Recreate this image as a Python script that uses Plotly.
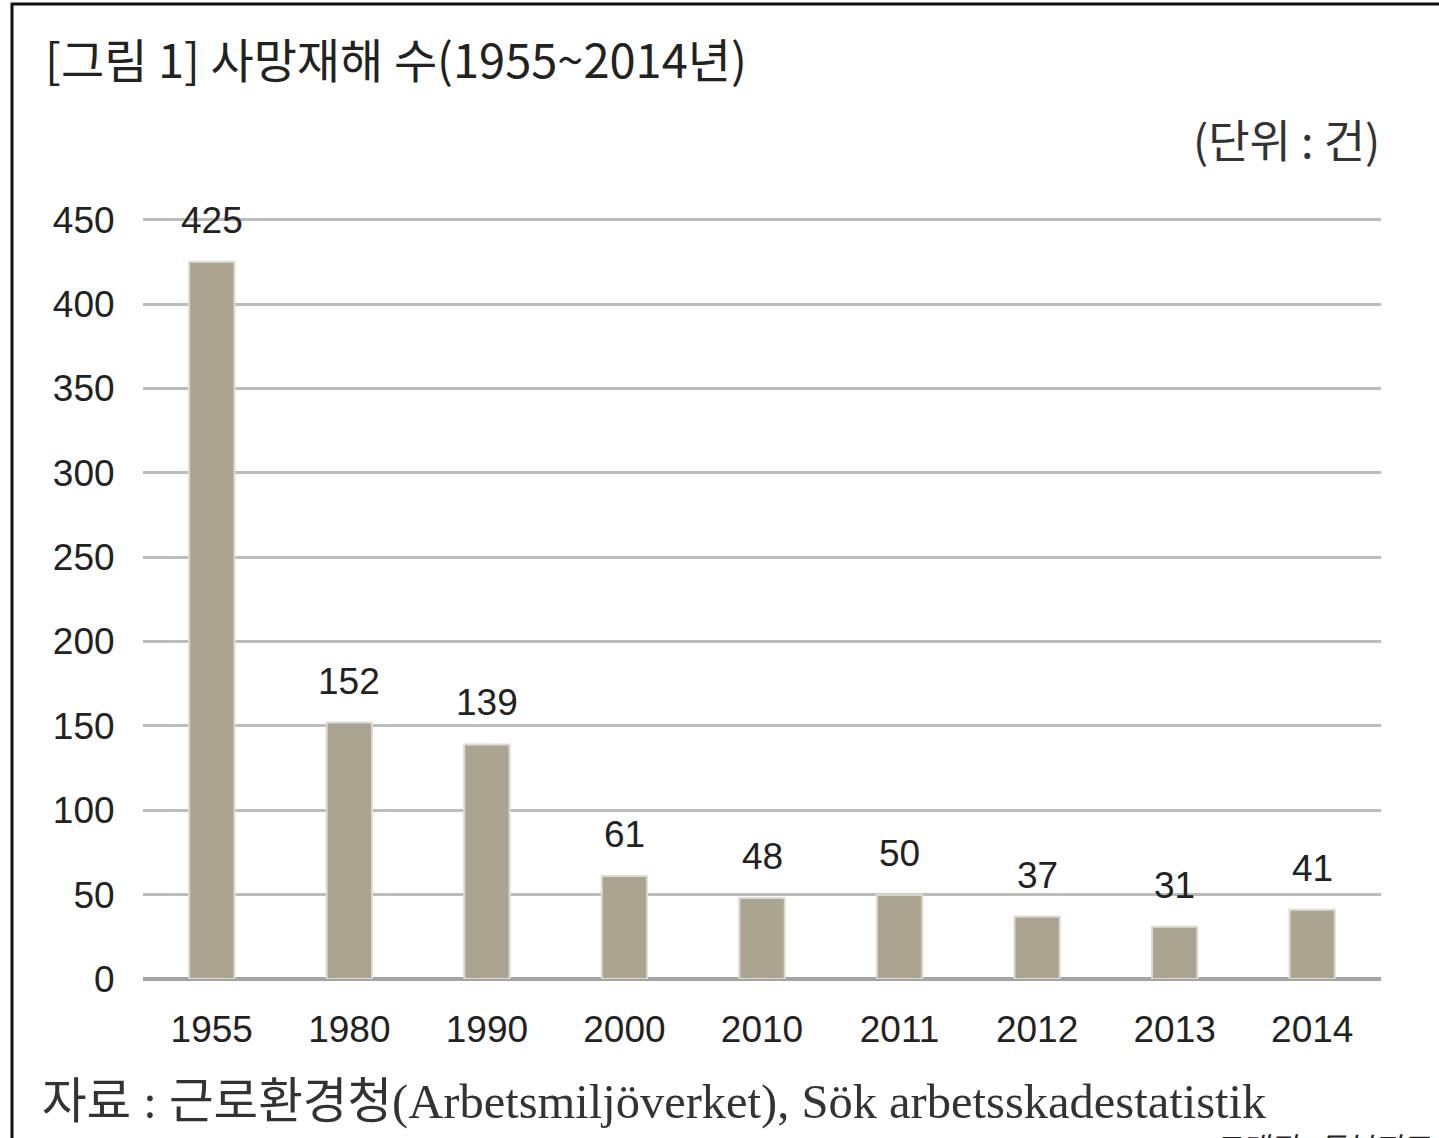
import plotly.graph_objects as go

years = ["1955", "1980", "1990", "2000", "2010", "2011", "2012", "2013", "2014"]
deaths = [425, 152, 139, 61, 48, 50, 37, 31, 41]
y_ticks = [0, 50, 100, 150, 200, 250, 300, 350, 400, 450]

title_text = "[그림 1] 사망재해 수(1955~2014년)"
unit_text = "(단위 : 건)"
source_text = "자료 : 근로환경청(Arbetsmiljöverket), Sök arbetsskadestatistik"
credit_text = "그래픽 : 동북지표"

W, H = 1439, 1138
L, R, T, B = 143, 58, 218, 159
pw, ph = W - L - R, H - T - B

def px(x):
    return (x - L) / pw

def py(y):
    return (H - B - y) / ph

fig = go.Figure()
fig.add_trace(go.Bar(
    x=list(range(len(years))), y=deaths,
    width=0.33,
    marker=dict(color="#aba491", line=dict(color="#dedbd3", width=2)),
    hovertext=years, hoverinfo="text+y",
))

for i, v in enumerate(deaths):
    fig.add_annotation(
        x=i, y=v, xref="x", yref="y", text=str(v), showarrow=False,
        yanchor="bottom", yshift=19,
        font=dict(family="Liberation Sans, Arial, sans-serif", size=37, color="#222222"),
    )

fig.add_annotation(x=px(43), y=py(57), xref="paper", yref="paper", text=title_text,
                   showarrow=False, xanchor="left", yanchor="middle",
                   font=dict(family="Noto Sans CJK KR, sans-serif", size=47, color="#222222"))
fig.add_annotation(x=px(1382), y=py(138), xref="paper", yref="paper", text=unit_text,
                   showarrow=False, xanchor="right", yanchor="middle",
                   font=dict(family="Noto Sans CJK KR, sans-serif", size=45, color="#333333"))
fig.add_annotation(x=px(40), y=py(1102), xref="paper", yref="paper", text=source_text,
                   showarrow=False, xanchor="left", yanchor="middle",
                   font=dict(family="Liberation Serif, Noto Sans CJK KR, serif", size=48.5, color="#333333"))
fig.add_annotation(x=px(1432), y=py(1146), xref="paper", yref="paper", text="<i>" + credit_text + "</i>",
                   showarrow=False, xanchor="right", yanchor="middle",
                   font=dict(family="Noto Sans CJK KR, sans-serif", size=30, color="#222222"))

# frame lines (left and top)
fig.add_shape(type="line", xref="paper", yref="paper", x0=px(12), x1=px(12), y0=py(3), y1=py(1150),
              line=dict(color="#111111", width=3))
fig.add_shape(type="line", xref="paper", yref="paper", x0=px(11), x1=px(1450), y0=py(4), y1=py(4),
              line=dict(color="#111111", width=3))

fig.update_layout(
    width=W, height=H,
    margin=dict(l=L, r=R, t=T, b=B),
    paper_bgcolor="white", plot_bgcolor="white",
    showlegend=False,
    xaxis=dict(
        range=[-0.5, 8.5], tickvals=list(range(len(years))), ticktext=years,
        showgrid=False, showline=False, zeroline=False,
        ticks="outside", ticklen=18, tickcolor="rgba(0,0,0,0)",
        tickfont=dict(family="Liberation Sans, Arial, sans-serif", size=37, color="#222222"),
    ),
    yaxis=dict(
        range=[0, 451], tickvals=y_ticks, showgrid=True, gridcolor="#bcbcbc", gridwidth=2.5,
        zeroline=True, zerolinecolor="#a4a4a6", zerolinewidth=4, showline=False,
        ticks="outside", ticklen=20, tickcolor="rgba(0,0,0,0)",
        tickfont=dict(family="Liberation Sans, Arial, sans-serif", size=37, color="#222222"),
    ),
)

fig.write_html("out.html", config={"displayModeBar": False},
               post_script="document.body.style.margin='0';document.body.style.overflow='hidden';")
